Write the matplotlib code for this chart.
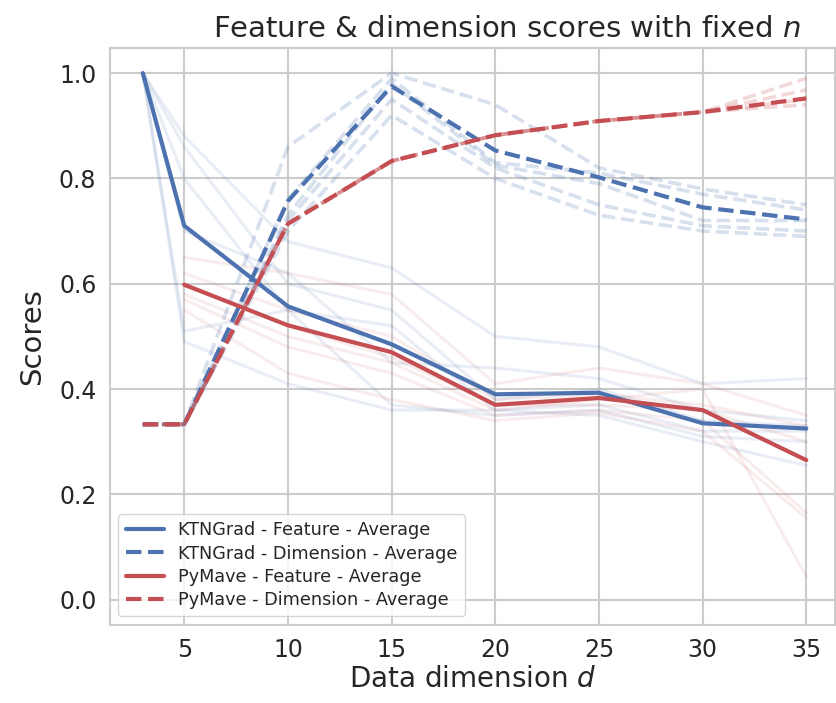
import numpy as np
import matplotlib
matplotlib.use("Agg")
import matplotlib.pyplot as plt
import seaborn as sns

sns.set_theme(style="whitegrid")
plt.rcParams['font.family'] = ['DejaVu Sans']

# ---- data ----
dims = [3, 5, 10, 15, 20, 25, 30, 35]
dims_pm = [5, 10, 15, 20, 25, 30, 35]

ktn_feat_avg = [1.0, 0.71, 0.557, 0.485, 0.39, 0.393, 0.335, 0.325]
ktn_dim_avg = [0.333, 0.333, 0.757, 0.975, 0.853, 0.802, 0.745, 0.722]
pm_feat_avg = [0.598, 0.521, 0.47, 0.37, 0.383, 0.36, 0.265]
pm_dim_avg = [0.333, 0.333, 0.714, 0.833, 0.882, 0.909, 0.926, 0.952]

ktn_feat_runs = [
    [1.0, 0.88, 0.68, 0.63, 0.50, 0.48, 0.41, 0.42],
    [1.0, 0.86, 0.60, 0.55, 0.38, 0.40, 0.34, 0.33],
    [1.0, 0.80, 0.55, 0.52, 0.36, 0.37, 0.32, 0.32],
    [1.0, 0.51, 0.55, 0.37, 0.35, 0.36, 0.31, 0.30],
    [1.0, 0.49, 0.41, 0.36, 0.36, 0.35, 0.30, 0.255],
    [1.0, 0.70, 0.62, 0.45, 0.44, 0.42, 0.36, 0.34],
]
pm_feat_runs = [
    [0.65, 0.62, 0.58, 0.41, 0.44, 0.41, 0.35],
    [0.62, 0.55, 0.50, 0.38, 0.39, 0.37, 0.33],
    [0.60, 0.52, 0.46, 0.37, 0.37, 0.36, 0.30],
    [0.57, 0.48, 0.43, 0.35, 0.36, 0.34, 0.165],
    [0.55, 0.43, 0.38, 0.34, 0.355, 0.32, 0.155],
    [0.58, 0.50, 0.45, 0.36, 0.38, 0.40, 0.044],
]
ktn_dim_runs = [
    [0.333, 0.333, 0.86, 1.00, 0.94, 0.82, 0.78, 0.75],
    [0.333, 0.333, 0.76, 0.99, 0.83, 0.81, 0.77, 0.74],
    [0.333, 0.333, 0.73, 0.98, 0.825, 0.79, 0.72, 0.72],
    [0.333, 0.333, 0.72, 0.95, 0.82, 0.75, 0.71, 0.70],
    [0.333, 0.333, 0.70, 0.92, 0.80, 0.73, 0.70, 0.69],
]
pm_dim_runs = [
    [0.333, 0.333, 0.714, 0.833, 0.882, 0.909, 0.926, 0.99],
    [0.333, 0.333, 0.714, 0.833, 0.882, 0.909, 0.926, 0.968],
    [0.333, 0.333, 0.714, 0.833, 0.882, 0.909, 0.926, 0.95],
    [0.333, 0.333, 0.714, 0.833, 0.882, 0.909, 0.926, 0.94],
]

blue = "#4C72B0"
red = "#C44E52"

fig = plt.figure(figsize=(8.37, 7.03), dpi=100)
ax = fig.add_axes([0.131, 0.111, 0.867, 0.821])

for r in ktn_feat_runs:
    ax.plot(dims, r, color=blue, lw=2.2, alpha=0.12)
for r in pm_feat_runs:
    ax.plot(dims_pm, r, color=red, lw=2.2, alpha=0.10)
for r in ktn_dim_runs:
    ax.plot(dims, r, color=blue, lw=2.6, alpha=0.22, ls="--")
for r in pm_dim_runs:
    ax.plot(dims, r, color=red, lw=2.6, alpha=0.22, ls="--")

ax.plot(dims, ktn_feat_avg, color=blue, lw=3, label="KTNGrad - Feature - Average")
ax.plot(dims, ktn_dim_avg, color=blue, lw=3, ls="--", label="KTNGrad - Dimension - Average")
ax.plot(dims_pm, pm_feat_avg, color=red, lw=3, label="PyMave - Feature - Average")
ax.plot(dims, pm_dim_avg, color=red, lw=3, ls="--", label="PyMave - Dimension - Average")

ax.set_xlim(1.4, 36.4)
ax.set_ylim(-0.048, 1.048)
ax.set_xticks([5, 10, 15, 20, 25, 30, 35])
ax.set_yticks([0.0, 0.2, 0.4, 0.6, 0.8, 1.0])
ax.tick_params(labelsize=17, colors="#262626")
ax.grid(True, color="#cccccc", lw=1.5)
for s in ax.spines.values():
    s.set_color("#cccccc")
    s.set_linewidth(1.5)

ax.set_xlabel("Data dimension $d$", fontsize=20, color="#262626", labelpad=2)
ax.set_ylabel("Scores", fontsize=21, color="#262626", labelpad=9)
ax.set_title("Feature & dimension scores with fixed $n$", fontsize=21,
             color="#262626", pad=8, x=0.547)

ax.legend(loc="lower left", fontsize=12.7, frameon=True, framealpha=0.8,
          handlelength=2.2, borderpad=0.4, labelspacing=0.3)

fig.savefig("out.png", dpi=100)
